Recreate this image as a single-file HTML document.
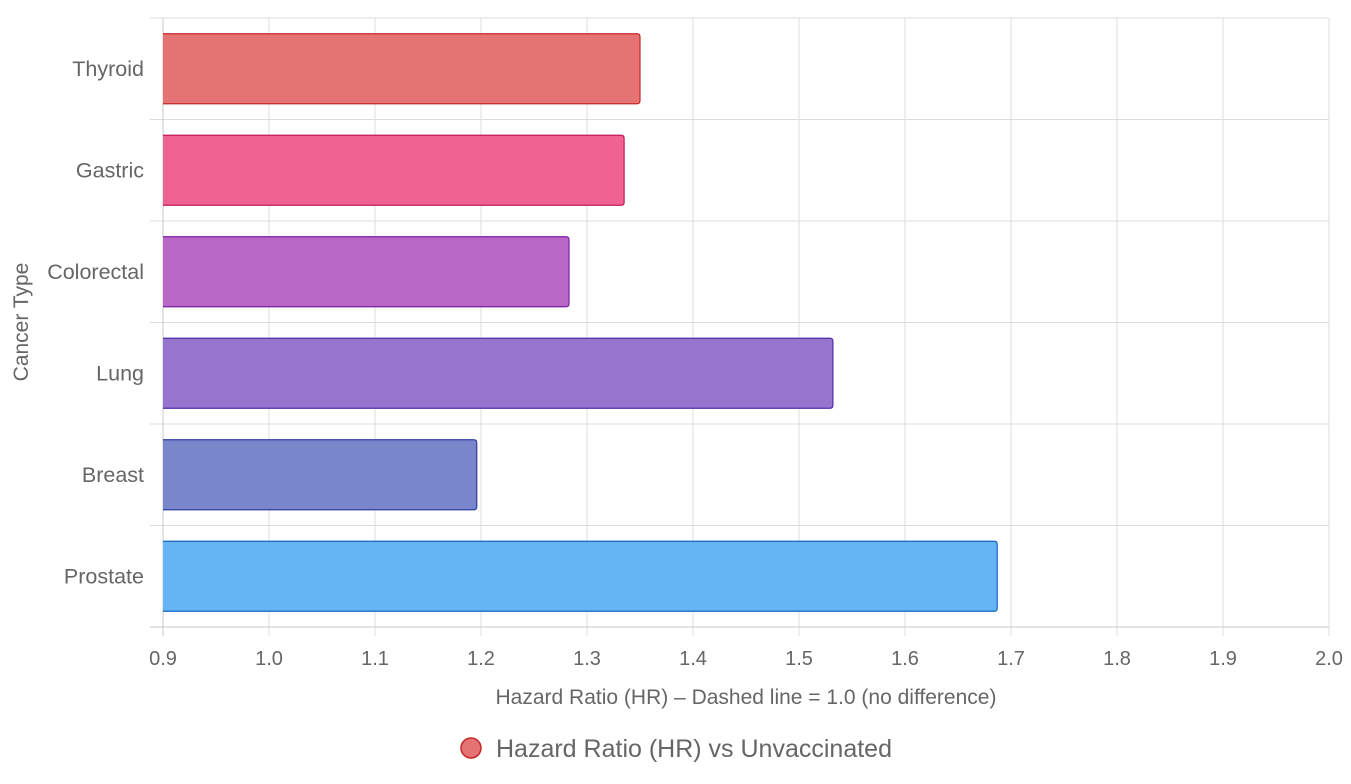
<!DOCTYPE html>
<html><head><meta charset="utf-8"><style>
body{margin:0;background:#fff;font-family:"Liberation Sans",Arial,sans-serif;}
svg text{font-family:"Liberation Sans",Arial,sans-serif;fill:#666;}
</style></head><body>
<svg id="chart" width="1351" height="779" xmlns="http://www.w3.org/2000/svg"></svg>
<script>
const categories=["Thyroid","Gastric","Colorectal","Lung","Breast","Prostate"];
const values=[1.35,1.335,1.283,1.532,1.196,1.687];
const fills=["#e57373","#f06292","#ba68c8","#9575cd","#7986cb","#64b5f6"];
const strokes=["#c62828","#c2185b","#7b1fa2","#512da8","#303f9f","#1565c0"];
const ticks=[0.9,1.0,1.1,1.2,1.3,1.4,1.5,1.6,1.7,1.8,1.9,2.0];
const NS="http://www.w3.org/2000/svg";
const svg=document.getElementById('chart');
const L=163,R=1329,T=18,B=627,xmin=0.9,xmax=2.0;
const x=v=>L+(v-xmin)/(xmax-xmin)*(R-L);
const band=(B-T)/categories.length;
const y=i=>T+i*band;
function mk(tag,attrs,parent){const e=document.createElementNS(NS,tag);for(const k in attrs)e.setAttribute(k,attrs[k]);(parent||svg).appendChild(e);return e;}
const grid=mk('g',{});


ticks.forEach(t=>{
  const l=mk('line',{x1:x(t),x2:x(t),y1:T,y2:B+9,stroke:'#dcdcdc','stroke-width':1},grid);
  
  
  const tx=mk('text',{x:x(t),y:B+38,'text-anchor':'middle','font-size':20});
  tx.textContent=t.toFixed(1);
  
  
});
for(let i=0;i<=categories.length;i++){
  const l=mk('line',{x1:150,x2:R,y1:y(i),y2:y(i),stroke:'#dcdcdc','stroke-width':1},grid);
  
  
}
mk('line',{x1:L,x2:L,y1:T,y2:B+9,stroke:'#c8c8c8','stroke-width':1});
mk('line',{x1:150,x2:R,y1:B,y2:B,stroke:'#c8c8c8','stroke-width':1});
categories.forEach((c,i)=>{
  const h=band*0.69, yc=y(i)+band/2;
  const w=x(values[i])-L;
  const p=mk('path',{d:`M${L},${yc-h/2} H${L+w-3} Q${L+w},${yc-h/2} ${L+w},${yc-h/2+3} V${yc+h/2-3} Q${L+w},${yc+h/2} ${L+w-3},${yc+h/2} H${L}`,fill:fills[i],stroke:strokes[i],'stroke-width':1.2});
  
  
  const t=mk('text',{x:144,y:yc+7,'text-anchor':'end','font-size':21.5});
  t.textContent=c;
  
  
});
</script>
<div style="position:absolute;left:0;top:0;width:1351px;height:779px;pointer-events:none;">
<svg width="1351" height="779" xmlns="http://www.w3.org/2000/svg">
<text x="28" y="322" transform="rotate(-90 28 322)" text-anchor="middle" font-size="21">Cancer Type</text>
<text x="746" y="704" text-anchor="middle" font-size="21">Hazard Ratio (HR) – Dashed line = 1.0 (no difference)</text>
<g>
<circle cx="471" cy="748" r="10" fill="#e57373" stroke="#c62828" stroke-width="1.5"/>
<text x="496" y="757" font-size="25">Hazard Ratio (HR) vs Unvaccinated</text>
</g>
</svg></div>
</body></html>
